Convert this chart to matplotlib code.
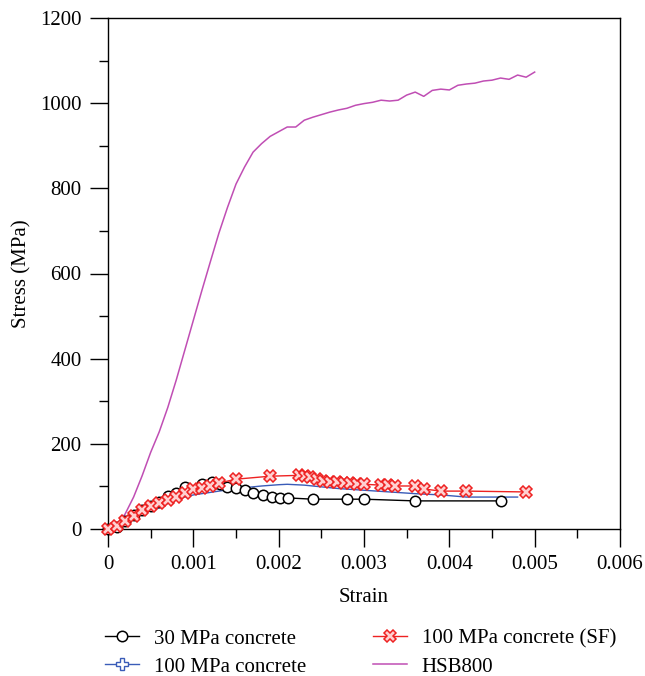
import matplotlib
matplotlib.use("Agg")
import matplotlib.pyplot as plt
from matplotlib.lines import Line2D
from matplotlib.ticker import MultipleLocator

plt.rcParams['font.family'] = ['Liberation Serif', 'DejaVu Serif']

# 30 MPa concrete
c30_strain = [0, 0.0001, 0.0002, 0.0003, 0.0004, 0.0005, 0.0006, 0.0007, 0.0008, 0.0009,
              0.0011, 0.00122, 0.00131, 0.0014, 0.0015, 0.0016, 0.0017, 0.00182, 0.00192,
              0.00202, 0.00211, 0.0024, 0.0028, 0.003, 0.0036, 0.0046]
c30_stress = [0, 5, 19, 33, 45, 54, 63, 77, 84, 98,
              105, 110, 105, 98, 96, 91, 84, 80, 75,
              73, 73, 70, 70, 70, 66, 66]

# 100 MPa concrete
c100_strain = [0, 0.0001, 0.0002, 0.0003, 0.0004, 0.0005, 0.0006, 0.0007, 0.0008, 0.0009,
               0.001, 0.0012, 0.0014, 0.0016, 0.0018, 0.002, 0.0021, 0.0023, 0.0025, 0.0027,
               0.003, 0.0033, 0.0036, 0.0039, 0.0042, 0.0045, 0.0048]
c100_stress = [0, 5, 14, 24, 35, 43, 50, 60, 68, 75,
               80, 86, 92, 97, 101, 104, 105, 103, 99, 95,
               91, 87, 83, 80, 75, 75, 75]

# 100 MPa concrete (SF)
sf_strain = [0, 0.0001, 0.0002, 0.0003, 0.0004, 0.0005, 0.0006, 0.0007, 0.0008, 0.0009,
             0.001, 0.0011, 0.0012, 0.0013, 0.0015, 0.0019, 0.00224, 0.00231, 0.00237,
             0.00245, 0.00252, 0.0026, 0.00268, 0.00276, 0.00284, 0.00292, 0.003, 0.0032,
             0.00328, 0.00336, 0.0036, 0.0037, 0.0039, 0.0042, 0.0049]
sf_stress = [0, 7, 19, 30, 45, 54, 61, 68, 75, 84,
             94, 97, 100, 108, 117, 124, 126, 124, 122,
             117, 113, 111, 110, 108, 108, 105, 105, 103,
             103, 101, 101, 94, 89, 89, 87]

# HSB800
hsb_strain = [0, 0.0001, 0.0002, 0.0003, 0.0004, 0.0005, 0.0006, 0.0007, 0.0008, 0.0009,
              0.001, 0.0011, 0.0012, 0.0013, 0.0014, 0.0015, 0.0016, 0.0017, 0.0018, 0.0019,
              0.002, 0.0021, 0.0022, 0.0023, 0.0024, 0.0025, 0.0026, 0.0027, 0.0028, 0.0029,
              0.003, 0.0031, 0.0032, 0.0033, 0.0034, 0.0035, 0.0036, 0.0037, 0.0038, 0.0039,
              0.004, 0.0041, 0.0042, 0.0043, 0.0044, 0.0045, 0.0046, 0.0047, 0.0048, 0.0049,
              0.005]
hsb_stress = [0, 10, 35, 75, 125, 180, 228, 285, 350, 420,
              490, 560, 628, 695, 755, 810, 850, 885, 905, 922,
              933, 944, 944, 960, 967, 973, 979, 984, 988, 995,
              999, 1002, 1007, 1005, 1007, 1019, 1026, 1016, 1030, 1033,
              1031, 1042, 1045, 1047, 1052, 1054, 1059, 1056, 1066, 1061,
              1073]

labels = ["30 MPa concrete", "100 MPa concrete", "100 MPa concrete (SF)", "HSB800"]

W, H = 645, 676
FS = 15
fig = plt.figure(figsize=(W / 100, H / 100), dpi=100)
ax = fig.add_axes([108 / W, (H - 529) / H, (620 - 108) / W, (529 - 18) / H])

purple = '#c04eb4'
blue = '#3a5cb8'
red = '#ee2222'

ax.plot(hsb_strain, hsb_stress, color=purple, lw=1.1, zorder=2)
ax.plot(c100_strain, c100_stress, color=blue, lw=1.0, zorder=3)
ax.plot(c30_strain, c30_stress, color='black', lw=1.0, marker='o', ms=7.5,
        mfc='white', mec='black', mew=1.1, zorder=4, clip_on=False)
ax.plot(sf_strain, sf_stress, color=red, lw=1.0, marker='X', ms=8,
        mfc='#ffd0d0', mec=red, mew=1.1, zorder=5, clip_on=False)

ax.set_xlim(0, 0.006)
ax.set_ylim(0, 1200)
ax.xaxis.set_major_locator(MultipleLocator(0.001))
ax.xaxis.set_minor_locator(MultipleLocator(0.0005))
ax.yaxis.set_major_locator(MultipleLocator(200))
ax.yaxis.set_minor_locator(MultipleLocator(100))
ax.xaxis.set_major_formatter(plt.FuncFormatter(lambda v, p: '0' if abs(v) < 1e-12 else f'{v:.3f}'))
ax.tick_params(which='major', direction='out', length=13, width=1.0, labelsize=FS, pad=6)
ax.tick_params(which='minor', direction='out', length=6.5, width=1.0)
ax.tick_params(top=False, right=False, which='both')
for s in ax.spines.values():
    s.set_linewidth(1.0)

ax.set_xlabel('Strain', fontsize=FS, labelpad=10)
ax.set_ylabel('Stress (MPa)', fontsize=FS, labelpad=6)

handles = [
    Line2D([], [], color='black', lw=1.0, marker='o', ms=7.5, mfc='white', mec='black', mew=1.1),
    Line2D([], [], color=blue, lw=1.0, marker='P', ms=8, mfc='white', mec=blue, mew=1.0),
    Line2D([], [], color=red, lw=1.0, marker='X', ms=8, mfc='#ffd0d0', mec=red, mew=1.1),
    Line2D([], [], color=purple, lw=1.1),
]
fig.legend(handles, labels, ncol=2, frameon=False, loc='upper left',
           bbox_to_anchor=(105 / W, 1 - 629 / H), fontsize=FS,
           handlelength=1.65, handletextpad=0.7, columnspacing=3.2,
           labelspacing=0.4, borderpad=0, borderaxespad=0)

fig.savefig('out.png', dpi=100)
